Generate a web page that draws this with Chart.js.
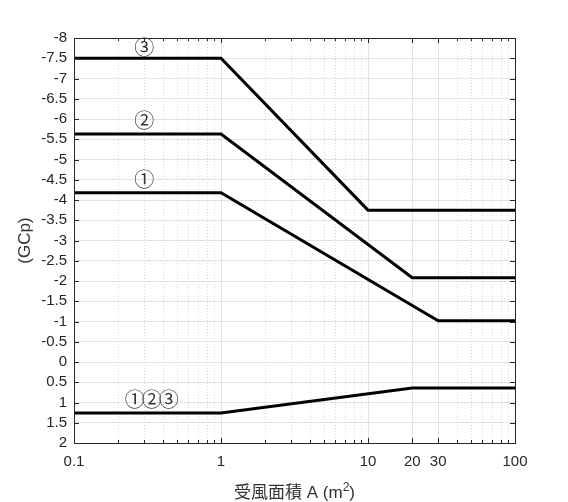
<!DOCTYPE html>
<html lang="zh-Hant">
<head>
    <meta charset="UTF-8">
    <title>GCp vs 受風面積</title>
    <script src="https://cdn.jsdelivr.net/npm/chart.js"></script>
    <style>
        html, body { margin: 0; padding: 0; background: #fff; }
        .wrap { position: relative; width: 568px; height: 502px; }
    </style>
</head>
<body>
    <div class="wrap">
        <canvas id="gcpChart" width="568" height="502"></canvas>
    </div>

    <script>
        // Curve break points (area in m^2) and GCp values
        const zone3Area = [0.1, 1, 10, 100];
        const zone3GCp  = [-7.5, -7.5, -3.75, -3.75];

        const zone2Area = [0.1, 1, 20, 100];
        const zone2GCp  = [-5.63, -5.63, -2.08, -2.08];

        const zone1Area = [0.1, 1, 30, 100];
        const zone1GCp  = [-4.18, -4.18, -1.02, -1.02];

        const posArea = [0.1, 1, 20, 100];
        const posGCp  = [1.26, 1.26, 0.64, 0.64];

        // Axis ticks
        const xTicks = [0.1, 1, 10, 20, 30, 100];
        const xMinorTicks = [0.2, 0.3, 0.4, 0.5, 0.6, 0.7, 0.8, 0.9,
                             2, 3, 4, 5, 6, 7, 8, 9,
                             40, 50, 60, 70, 80, 90];

        // Curve labels (text, x, y in data units)
        const labelText = ['③', '②', '①', '①②③'];
        const labelX = [0.3, 0.3, 0.3, 0.33];
        const labelY = [-7.77, -5.97, -4.5, 0.93];

        const xTitle = ['受風面積 A (m', '2', ')'];

        const toPoints = (xs, ys) => xs.map((x, i) => ({ x: x, y: ys[i] }));

        const axisColor = '#262626';

        const framePlugin = {
            id: 'frame',
            beforeDatasetsDraw(chart) {
                const { ctx, chartArea: a, scales: { x } } = chart;
                ctx.save();
                ctx.strokeStyle = '#d6d6d6';
                ctx.lineWidth = 1;
                ctx.setLineDash([1, 2]);
                xMinorTicks.forEach(v => {
                    const px = Math.round(x.getPixelForValue(v)) + 0.5;
                    ctx.beginPath();
                    ctx.moveTo(px, a.top);
                    ctx.lineTo(px, a.bottom);
                    ctx.stroke();
                });
                ctx.restore();
            },
            afterDatasetsDraw(chart) {
                const { ctx, chartArea: a, scales: { x, y } } = chart;
                ctx.save();
                ctx.strokeStyle = axisColor;
                ctx.lineWidth = 1;
                ctx.strokeRect(Math.round(a.left) + 0.5, Math.round(a.top) + 0.5,
                               Math.round(a.right - a.left), Math.round(a.bottom - a.top));

                // inward tick marks
                ctx.beginPath();
                const xt = (v, len) => {
                    const px = Math.round(x.getPixelForValue(v)) + 0.5;
                    ctx.moveTo(px, a.bottom); ctx.lineTo(px, a.bottom - len);
                    ctx.moveTo(px, a.top); ctx.lineTo(px, a.top + len);
                };
                xTicks.forEach(v => xt(v, 5));
                xMinorTicks.forEach(v => xt(v, 3));
                y.ticks.forEach(t => {
                    const py = Math.round(y.getPixelForValue(t.value)) + 0.5;
                    ctx.moveTo(a.left, py); ctx.lineTo(a.left + 5, py);
                    ctx.moveTo(a.right, py); ctx.lineTo(a.right - 5, py);
                });
                ctx.stroke();

                // curve labels
                ctx.fillStyle = '#333';
                ctx.font = '20px "Noto Sans CJK JP", "DejaVu Sans", serif';
                ctx.textAlign = 'center';
                ctx.textBaseline = 'middle';
                labelText.forEach((t, i) => {
                    // squeeze the run of circled digits together
                    if ('letterSpacing' in ctx) ctx.letterSpacing = t.length > 1 ? '-3px' : '0px';
                    ctx.fillText(t, x.getPixelForValue(labelX[i]), y.getPixelForValue(labelY[i]));
                });
                if ('letterSpacing' in ctx) ctx.letterSpacing = '0px';

                // x axis title with superscript
                const f1 = '17px "Liberation Sans", "Noto Sans CJK TC", sans-serif';
                const f2 = '12px "Liberation Sans", sans-serif';
                ctx.textAlign = 'left';
                ctx.textBaseline = 'alphabetic';
                ctx.font = f1;
                const w0 = ctx.measureText(xTitle[0]).width;
                const w2 = ctx.measureText(xTitle[2]).width;
                ctx.font = f2;
                const w1 = ctx.measureText(xTitle[1]).width;
                const cx = (a.left + a.right) / 2;
                const base = chart.height - 4;
                let px = cx - (w0 + w1 + w2) / 2;
                ctx.font = f1;
                ctx.fillText(xTitle[0], px, base);
                px += w0;
                ctx.font = f2;
                ctx.fillText(xTitle[1], px, base - 7);
                px += w1;
                ctx.font = f1;
                ctx.fillText(xTitle[2], px, base);
                ctx.restore();
            }
        };

        const lineStyle = {
            borderColor: '#000',
            backgroundColor: '#000',
            borderWidth: 3,
            pointRadius: 0,
            fill: false,
            tension: 0
        };

        const ctx = document.getElementById('gcpChart').getContext('2d');
        new Chart(ctx, {
            type: 'line',
            data: {
                datasets: [
                    Object.assign({ label: '③', data: toPoints(zone3Area, zone3GCp) }, lineStyle),
                    Object.assign({ label: '②', data: toPoints(zone2Area, zone2GCp) }, lineStyle),
                    Object.assign({ label: '①', data: toPoints(zone1Area, zone1GCp) }, lineStyle),
                    Object.assign({ label: '①②③', data: toPoints(posArea, posGCp) }, lineStyle)
                ]
            },
            options: {
                responsive: false,
                animation: false,
                layout: { padding: { left: 11, top: 38, right: 53, bottom: 0 } },
                plugins: {
                    legend: { display: false },
                    tooltip: { enabled: false }
                },
                scales: {
                    x: {
                        type: 'logarithmic',
                        min: 0.1,
                        max: 100,
                        afterBuildTicks: scale => {
                            scale.ticks = xTicks.map(v => ({ value: v }));
                        },
                        afterFit: scale => { scale.height = 59; },
                        ticks: {
                            autoSkip: false,
                            maxRotation: 0,
                            padding: 10,
                            color: axisColor,
                            font: { family: '"Liberation Sans", Arial, sans-serif', size: 15 },
                            callback: v => String(v)
                        },
                        grid: { color: '#e2e2e2', drawTicks: false },
                        border: { display: false }
                    },
                    y: {
                        type: 'linear',
                        reverse: true,
                        min: -8,
                        max: 2,
                        afterFit: scale => { scale.width = 63; },
                        ticks: {
                            stepSize: 0.5,
                            autoSkip: false,
                            padding: 7,
                            color: axisColor,
                            font: { family: '"Liberation Sans", Arial, sans-serif', size: 15 },
                            callback: v => String(v)
                        },
                        grid: { color: '#e2e2e2', drawTicks: false },
                        border: { display: false },
                        title: {
                            display: true,
                            text: '(GCp)',
                            color: '#333',
                            padding: { top: 4, bottom: 0 },
                            font: { family: '"Liberation Sans", Arial, sans-serif', size: 17 }
                        }
                    }
                }
            },
            plugins: [framePlugin]
        });
    </script>
</body>
</html>
